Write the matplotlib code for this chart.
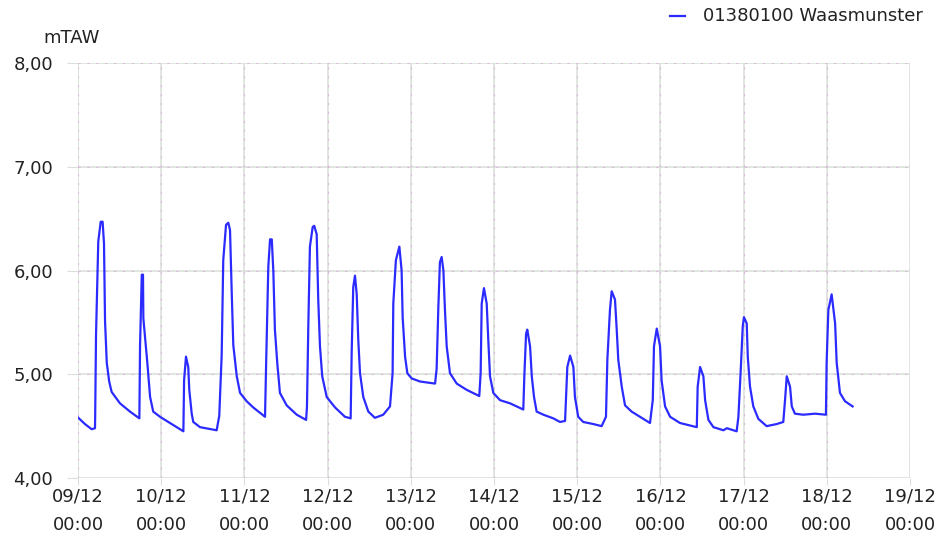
import matplotlib as mpl

mpl.use("Agg")
import matplotlib.pyplot as plt
from matplotlib.lines import Line2D

# hours since 09/12 00:00, water level in mTAW
hours = [
    0.1, 2.0, 3.95, 4.9, 4.95, 5.2, 5.85, 6.55, 7.1, 7.5, 7.8, 8.3, 9.0, 9.7, 12.1, 15.0, 17.7,
    17.9, 18.4, 18.75, 18.85, 20.0, 20.8, 21.7, 23.65, 26.55, 30.4,
    30.6, 31.15, 31.8, 32.1, 32.8, 33.25, 35.2, 40.0,
    40.75, 41.45, 41.9, 42.7, 43.35, 43.85, 44.35, 44.8, 45.8, 46.75, 48.65, 50.55, 53.95,
    54.25, 54.9, 55.4, 55.9, 56.35, 56.8, 57.5, 58.25, 60.2, 63.1, 65.8,
    66.05, 66.45, 66.9, 67.7, 68.15, 68.85, 69.3, 69.8, 70.45, 71.75, 74.15, 77.0, 78.65,
    78.95, 79.4, 79.9, 80.4, 80.85, 81.35, 82.3, 83.75, 85.65, 88.05, 90.0,
    90.75, 90.95, 91.7, 92.7, 93.35, 93.65, 94.35, 95.0, 96.25, 98.65, 103.0,
    103.45, 103.95, 104.4, 104.9, 105.4, 105.85, 106.35, 107.3, 109.25, 112.1, 115.75,
    116.15, 116.45, 117.1, 117.9, 118.35, 118.85, 119.8, 121.75, 124.6, 128.45,
    128.75, 129.25, 129.6, 130.4, 130.9, 131.55, 132.3, 134.25, 137.1, 139.05, 140.5,
    141.15, 141.95, 142.9, 143.35, 144.3, 145.75, 148.65, 151.05,
    152.3, 152.7, 153.45, 153.95, 154.9, 155.4, 155.85, 156.85, 157.8, 159.7, 162.1, 165.0,
    165.8, 166.15, 166.95, 167.9, 168.35, 169.35, 170.8, 173.65, 178.5,
    178.75, 179.45, 180.4, 180.9, 181.85, 183.3, 186.2, 187.15, 190.0,
    190.5, 191.2, 191.75, 192.1, 192.9, 193.2, 193.85, 194.8, 196.25, 198.65, 201.55, 203.45,
    203.95, 204.45, 205.4, 205.9, 206.8, 209.2, 212.6, 215.75,
    215.95, 216.45, 217.4, 218.4, 218.85, 219.8, 221.25, 223.45,
]
level = [
    4.58, 4.52, 4.47, 4.48, 4.58, 5.38, 6.28, 6.47, 6.47, 6.26, 5.51, 5.11, 4.93, 4.83, 4.72, 4.64, 4.575,
    5.28, 5.96, 5.96, 5.54, 5.11, 4.78, 4.64, 4.59, 4.53, 4.45,
    4.94, 5.17, 5.07, 4.85, 4.62, 4.54, 4.49, 4.46,
    4.60, 5.19, 6.10, 6.44, 6.46, 6.39, 5.78, 5.28, 4.98, 4.82, 4.74, 4.68, 4.59,
    5.07, 6.04, 6.30, 6.30, 5.99, 5.43, 5.10, 4.82, 4.70, 4.61, 4.56,
    4.69, 5.49, 6.23, 6.42, 6.43, 6.35, 5.72, 5.27, 4.98, 4.78, 4.68, 4.59, 4.575,
    5.22, 5.84, 5.95, 5.77, 5.33, 5.01, 4.78, 4.64, 4.58, 4.61, 4.69,
    5.01, 5.68, 6.10, 6.23, 6.00, 5.55, 5.17, 5.01, 4.96, 4.93, 4.91,
    5.05, 5.65, 6.08, 6.13, 6.00, 5.62, 5.27, 5.01, 4.91, 4.85, 4.79,
    5.01, 5.68, 5.83, 5.68, 5.33, 4.98, 4.82, 4.75, 4.72, 4.66,
    4.98, 5.39, 5.43, 5.27, 4.98, 4.78, 4.64, 4.61, 4.575, 4.54, 4.55,
    5.07, 5.18, 5.07, 4.78, 4.59, 4.54, 4.52, 4.50,
    4.59, 5.14, 5.62, 5.80, 5.72, 5.43, 5.14, 4.88, 4.70, 4.64, 4.59, 4.53,
    4.75, 5.27, 5.44, 5.27, 4.94, 4.69, 4.59, 4.53, 4.49,
    4.88, 5.07, 4.98, 4.75, 4.56, 4.49, 4.46, 4.48, 4.45,
    4.59, 5.06, 5.46, 5.55, 5.49, 5.17, 4.88, 4.69, 4.57, 4.50, 4.52, 4.54,
    4.75, 4.98, 4.88, 4.69, 4.62, 4.61, 4.62, 4.61,
    5.11, 5.62, 5.77, 5.49, 5.11, 4.82, 4.74, 4.69,
]

x_ticks = [0, 24, 48, 72, 96, 120, 144, 168, 192, 216, 240]
x_labels = ["09/12\n00:00", "10/12\n00:00", "11/12\n00:00", "12/12\n00:00", "13/12\n00:00",
            "14/12\n00:00", "15/12\n00:00", "16/12\n00:00", "17/12\n00:00", "18/12\n00:00",
            "19/12\n00:00"]
y_ticks = [4, 5, 6, 7, 8]
y_labels = ["4,00", "5,00", "6,00", "7,00", "8,00"]

SERIES = "01380100 Waasmunster"
BLUE = "#2b2bff"
GRID = "#d9dfd9"
GRID_DOT = "#dcb8dc"
TXT = "#222222"

plt.rcParams["font.family"] = ["DejaVu Sans"]

fig = plt.figure(figsize=(9.39, 5.42), dpi=100)
ax = fig.add_axes([78 / 939, 1 - 478 / 542, 832 / 939, 415 / 542])

ax.plot(hours, level, color=BLUE, lw=1.6, zorder=3)

ax.set_xlim(0, 240)
ax.set_ylim(4, 8)
ax.set_xticks(x_ticks)
ax.set_xticklabels(x_labels, fontsize=13, color=TXT, linespacing=1.7)
ax.set_yticks(y_ticks)
ax.set_yticklabels(y_labels, fontsize=13, color=TXT)
ax.tick_params(axis="x", length=5, color=GRID, pad=2)
ax.tick_params(axis="y", length=8, color=GRID, pad=10)

for s in ax.spines.values():
    s.set_visible(False)

# solid light grid with pinkish dotted overlay
ax.grid(True, color=GRID, lw=1.1, zorder=0)
for t in x_ticks:
    ax.axvline(t, color=GRID_DOT, lw=0.8, ls=(0, (2, 6)), zorder=1)
for t in y_ticks:
    ax.axhline(t, color=GRID_DOT, lw=0.8, ls=(0, (2, 6)), zorder=1)
ax.set_axisbelow(True)

fig.text(43 / 939, 1 - 38 / 542, "mTAW", fontsize=13, color=TXT, ha="left", va="center")

# legend, top right
fig.add_artist(Line2D([670 / 939, 685 / 939], [1 - 16 / 542] * 2, color=BLUE, lw=1.6))
fig.text(703 / 939, 1 - 16 / 542, SERIES, fontsize=13, color=TXT, ha="left", va="center")

fig.savefig("out.png", dpi=100)
